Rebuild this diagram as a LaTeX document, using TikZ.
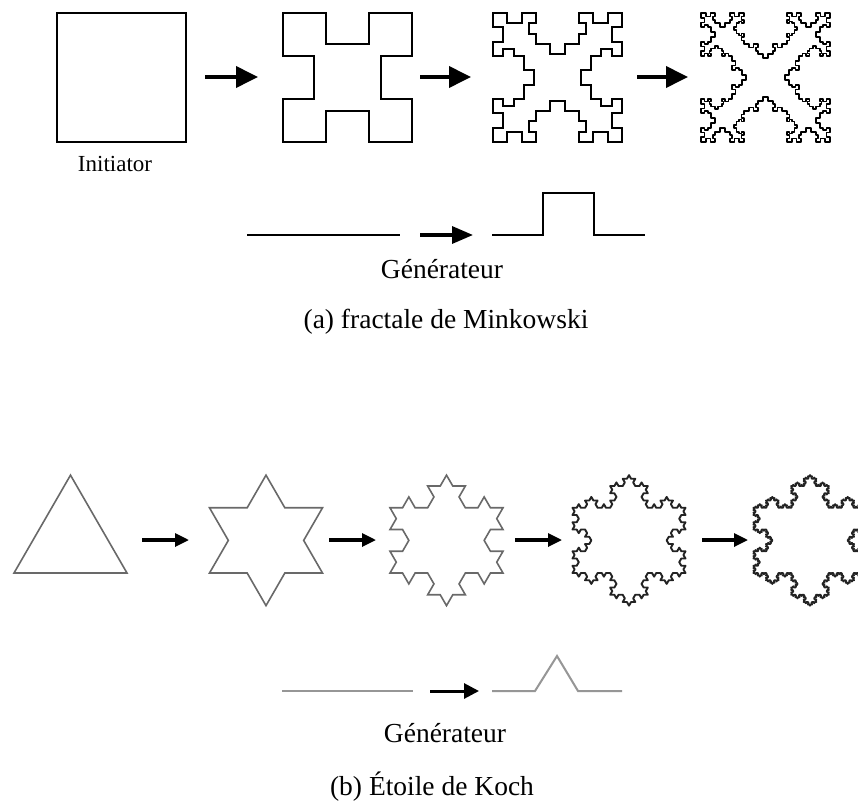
\documentclass[tikz,border=0pt]{standalone}
\usepackage{fontspec}
\setmainfont{Liberation Serif}
\usetikzlibrary{arrows.meta}

\makeatletter
\def\fracH{0.72}
% Minkowski-type segment (inward square bump, CCW traversal)
\newcommand\fracMink[5]{%
  \ifnum#1=0
    \pgfpathlineto{\pgfqpoint{#4pt}{#5pt}}%
    \let\fr@next\relax
  \else
    \pgfmathsetmacro\fr@dx{((#4)-(#2))/3}%
    \pgfmathsetmacro\fr@dy{((#5)-(#3))/3}%
    \pgfmathsetmacro\fr@ax{(#2)+(\fr@dx)}%
    \pgfmathsetmacro\fr@ay{(#3)+(\fr@dy)}%
    \pgfmathsetmacro\fr@bx{(\fr@ax)-\fracH*(\fr@dy)}%
    \pgfmathsetmacro\fr@by{(\fr@ay)+\fracH*(\fr@dx)}%
    \pgfmathsetmacro\fr@cx{(\fr@bx)+(\fr@dx)}%
    \pgfmathsetmacro\fr@cy{(\fr@by)+(\fr@dy)}%
    \pgfmathsetmacro\fr@ex{(#2)+2*(\fr@dx)}%
    \pgfmathsetmacro\fr@ey{(#3)+2*(\fr@dy)}%
    \pgfmathtruncatemacro\fr@d{#1-1}%
    \edef\fr@next{%
      \noexpand\fracMink{\fr@d}{#2}{#3}{\fr@ax}{\fr@ay}%
      \noexpand\fracMink{\fr@d}{\fr@ax}{\fr@ay}{\fr@bx}{\fr@by}%
      \noexpand\fracMink{\fr@d}{\fr@bx}{\fr@by}{\fr@cx}{\fr@cy}%
      \noexpand\fracMink{\fr@d}{\fr@cx}{\fr@cy}{\fr@ex}{\fr@ey}%
      \noexpand\fracMink{\fr@d}{\fr@ex}{\fr@ey}{#4}{#5}}%
  \fi
  \fr@next}
% Koch segment (outward triangular bump, CCW traversal)
\newcommand\fracKoch[5]{%
  \ifnum#1=0
    \pgfpathlineto{\pgfqpoint{#4pt}{#5pt}}%
    \let\fr@next\relax
  \else
    \pgfmathsetmacro\fr@dx{((#4)-(#2))/3}%
    \pgfmathsetmacro\fr@dy{((#5)-(#3))/3}%
    \pgfmathsetmacro\fr@ax{(#2)+(\fr@dx)}%
    \pgfmathsetmacro\fr@ay{(#3)+(\fr@dy)}%
    \pgfmathsetmacro\fr@bx{(#2)+1.5*(\fr@dx)+0.8660254*(\fr@dy)}%
    \pgfmathsetmacro\fr@by{(#3)+1.5*(\fr@dy)-0.8660254*(\fr@dx)}%
    \pgfmathsetmacro\fr@ex{(#2)+2*(\fr@dx)}%
    \pgfmathsetmacro\fr@ey{(#3)+2*(\fr@dy)}%
    \pgfmathtruncatemacro\fr@d{#1-1}%
    \edef\fr@next{%
      \noexpand\fracKoch{\fr@d}{#2}{#3}{\fr@ax}{\fr@ay}%
      \noexpand\fracKoch{\fr@d}{\fr@ax}{\fr@ay}{\fr@bx}{\fr@by}%
      \noexpand\fracKoch{\fr@d}{\fr@bx}{\fr@by}{\fr@ex}{\fr@ey}%
      \noexpand\fracKoch{\fr@d}{\fr@ex}{\fr@ey}{#4}{#5}}%
  \fi
  \fr@next}
% square of side 129, bottom-left corner (#2,#3)
\newcommand\minkSquare[3]{%
  \pgfmathsetmacro\ms@r{(#2)+129}%
  \pgfmathsetmacro\ms@t{(#3)+129}%
  \edef\ms@do{%
    \noexpand\pgfpathmoveto{\noexpand\pgfqpoint{#2pt}{#3pt}}%
    \noexpand\fracMink{#1}{#2}{#3}{\ms@r}{#3}%
    \noexpand\fracMink{#1}{\ms@r}{#3}{\ms@r}{\ms@t}%
    \noexpand\fracMink{#1}{\ms@r}{\ms@t}{#2}{\ms@t}%
    \noexpand\fracMink{#1}{#2}{\ms@t}{#2}{#3}%
    \noexpand\pgfpathclose}%
  \ms@do}
% Koch snowflake, side 113, centre (#2,#3)
\newcommand\kochFlake[3]{%
  \pgfmathsetmacro\kf@l{(#2)-56.5}%
  \pgfmathsetmacro\kf@r{(#2)+56.5}%
  \pgfmathsetmacro\kf@b{(#3)-32.62}%
  \pgfmathsetmacro\kf@t{(#3)+65.24}%
  \edef\kf@do{%
    \noexpand\pgfpathmoveto{\noexpand\pgfqpoint{\kf@l pt}{\kf@b pt}}%
    \noexpand\fracKoch{#1}{\kf@l}{\kf@b}{\kf@r}{\kf@b}%
    \noexpand\fracKoch{#1}{\kf@r}{\kf@b}{#2}{\kf@t}%
    \noexpand\fracKoch{#1}{#2}{\kf@t}{\kf@l}{\kf@b}%
    \noexpand\pgfpathclose}%
  \kf@do}
\makeatother

\definecolor{kochgray}{RGB}{105,105,105}
\definecolor{kochdark}{RGB}{35,35,35}
\definecolor{gengray}{RGB}{150,150,150}

\tikzset{
  bigarrow/.style={line width=3.8pt, -{Triangle[length=22pt,width=21pt]}},
  smallarrow/.style={line width=3.2pt, -{Triangle[length=14pt,width=13pt]}},
  genarrowA/.style={line width=3.4pt, -{Triangle[length=21pt,width=17pt]}},
  genarrowB/.style={line width=3pt, -{Triangle[length=15pt,width=15pt]}},
  lbl/.style={font=\fontsize{27.5}{32}\selectfont, inner sep=0pt, anchor=base},
  smalllbl/.style={font=\fontsize{23}{27}\selectfont, inner sep=0pt, anchor=base},
  mgen/.style={line width=2.8pt, black, line join=miter},
  kgen/.style={line width=2pt, gengray},
}

\begin{document}
\begin{tikzpicture}[x=1pt,y=1pt]
\useasboundingbox (0,0) rectangle (858,-802);
\fill[white] (0,0) rectangle (858,-802);
\begin{scope}
\clip (0,0) rectangle (858,-802);

% ---------- Minkowski ----------
\begin{pgfscope}
\pgfsetlinewidth{1.8pt}\pgfsetstrokecolor{black}\pgfsetmiterjoin
\minkSquare{0}{57}{-142}
\minkSquare{1}{283}{-142}
\pgfusepath{stroke}
\end{pgfscope}
\begin{pgfscope}
\pgfsetlinewidth{2pt}\pgfsetstrokecolor{black}\pgfsetmiterjoin
\minkSquare{2}{493}{-142}
\pgfusepath{stroke}
\end{pgfscope}
\begin{pgfscope}
\pgfsetlinewidth{1.7pt}\pgfsetstrokecolor{black}\pgfsetroundjoin
\minkSquare{3}{701}{-142}
\pgfusepath{stroke}
\end{pgfscope}

\coordinate (ma1s) at (205,-77); \coordinate (ma1e) at (258,-77);
\coordinate (ma2s) at (420,-77); \coordinate (ma2e) at (471,-77);
\coordinate (ma3s) at (637,-77); \coordinate (ma3e) at (688,-77);
\draw[bigarrow] (ma1s) -- (ma1e);
\draw[bigarrow] (ma2s) -- (ma2e);
\draw[bigarrow] (ma3s) -- (ma3e);

\node[smalllbl] (init) at (115,-172) {Initiator};

% generator (a)
\coordinate (ga0) at (247,-235); \coordinate (ga1) at (400,-235);
\draw[mgen] (ga0) -- (ga1);
\coordinate (gaas) at (420,-235); \coordinate (gaae) at (473,-235);
\draw[genarrowA] (gaas) -- (gaae);
\coordinate (gb0) at (492,-235); \coordinate (gb1) at (543,-235);
\coordinate (gb2) at (543,-193); \coordinate (gb3) at (594,-193);
\coordinate (gb4) at (594,-235); \coordinate (gb5) at (645,-235);
\draw[mgen] (gb0) -- (gb1) -- (gb2) -- (gb3) -- (gb4) -- (gb5);

\node[lbl] (gena) at (442,-278) {Générateur};
\node[lbl] (capa) at (446,-328) {(a) fractale de Minkowski};

% ---------- Koch ----------
\begin{pgfscope}
\pgfsetlinewidth{1.6pt}\pgfsetstrokecolor{kochgray}\pgfsetmiterjoin
\kochFlake{0}{70.5}{-540.4}
\kochFlake{1}{266}{-540.4}
\kochFlake{2}{446.5}{-540.4}
\pgfusepath{stroke}
\end{pgfscope}
\begin{pgfscope}
\pgfsetlinewidth{1.9pt}\pgfsetstrokecolor{kochdark}\pgfsetroundjoin
\kochFlake{3}{629}{-540.4}
\kochFlake{4}{810}{-540.4}
\pgfusepath{stroke}
\end{pgfscope}

\coordinate (ka1s) at (142,-540); \coordinate (ka1e) at (189,-540);
\coordinate (ka2s) at (329,-540); \coordinate (ka2e) at (376,-540);
\coordinate (ka3s) at (515,-540); \coordinate (ka3e) at (562,-540);
\coordinate (ka4s) at (702,-540); \coordinate (ka4e) at (748,-540);
\draw[smallarrow] (ka1s) -- (ka1e);
\draw[smallarrow] (ka2s) -- (ka2e);
\draw[smallarrow] (ka3s) -- (ka3e);
\draw[smallarrow] (ka4s) -- (ka4e);

% generator (b)
\coordinate (kg0) at (282,-691); \coordinate (kg1) at (413,-691);
\draw[kgen] (kg0) -- (kg1);
\coordinate (kgas) at (430,-691); \coordinate (kgae) at (479,-691);
\draw[genarrowB] (kgas) -- (kgae);
\coordinate (kh0) at (492,-691); \coordinate (kh1) at (535,-691);
\coordinate (kh2) at (557,-656); \coordinate (kh3) at (578,-691);
\coordinate (kh4) at (622,-691);
\draw[kgen] (kh0) -- (kh1) -- (kh2) -- (kh3) -- (kh4);

\node[lbl] (genb) at (445,-742) {Générateur};
\node[lbl] (capb) at (432,-795) {(b) Étoile de Koch};
\end{scope}
\end{tikzpicture}
\end{document}
